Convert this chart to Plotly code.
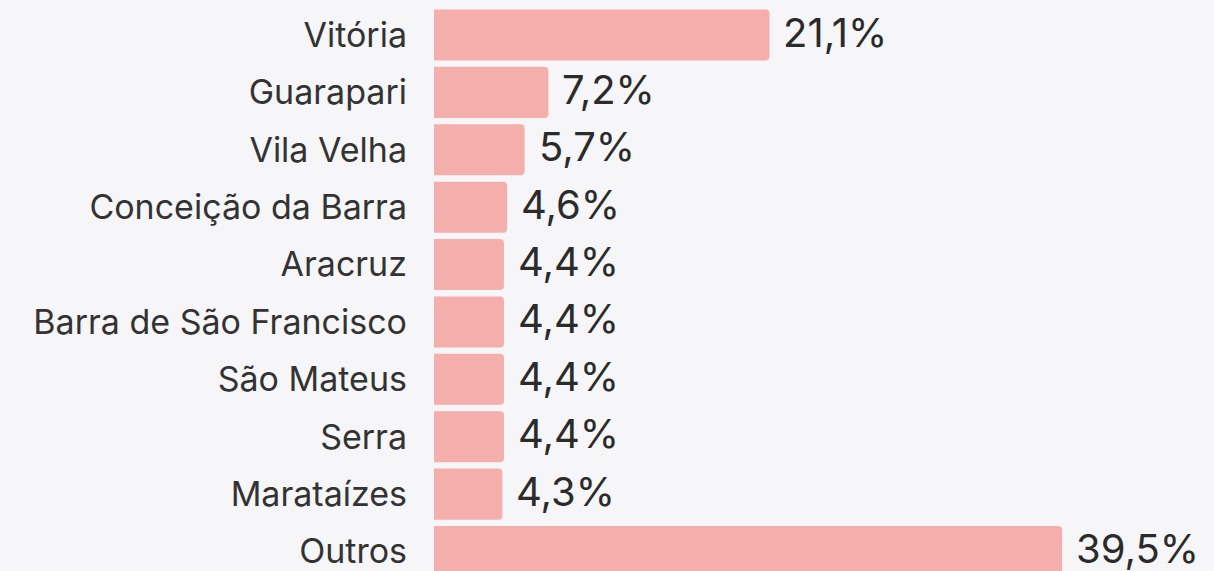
import plotly.graph_objects as go

cities = ["Vitória", "Guarapari", "Vila Velha", "Conceição da Barra", "Aracruz",
          "Barra de São Francisco", "São Mateus", "Serra", "Marataízes", "Outros"]
shares = [21.1, 7.2, 5.7, 4.6, 4.4, 4.4, 4.4, 4.4, 4.3, 39.5]
labels = [f"{v:.1f}%".replace(".", ",") for v in shares]

fig = go.Figure(go.Bar(
    x=shares,
    y=cities,
    orientation="h",
    marker=dict(color="#f4afac", line=dict(width=0)),
    hoverinfo="skip",
))

# value labels just right of each bar
for c, v, t in zip(cities, shares, labels):
    fig.add_annotation(x=v, y=c, text=t, showarrow=False, xanchor="left",
                       xshift=12, yshift=3,
                       font=dict(family="Inter", size=40, color="#2b2b2b"))

fig.update_layout(
    width=1214, height=571,
    margin=dict(l=434, r=0, t=0, b=0),
    paper_bgcolor="#f6f6f8",
    plot_bgcolor="#f6f6f8",
    bargap=0.11,
    barcornerradius=4,
    showlegend=False,
    xaxis=dict(range=[0, 49.06], visible=False),
    yaxis=dict(
        range=[9.34, -0.61],
        showgrid=False, zeroline=False, showline=False,
        ticks="", ticklabelstandoff=26,
        tickfont=dict(family="Inter", size=34, color="#333333"),
    ),
)

fig.write_html("out.html", config={"displayModeBar": False},
               post_script="document.body.style.margin='0';")
